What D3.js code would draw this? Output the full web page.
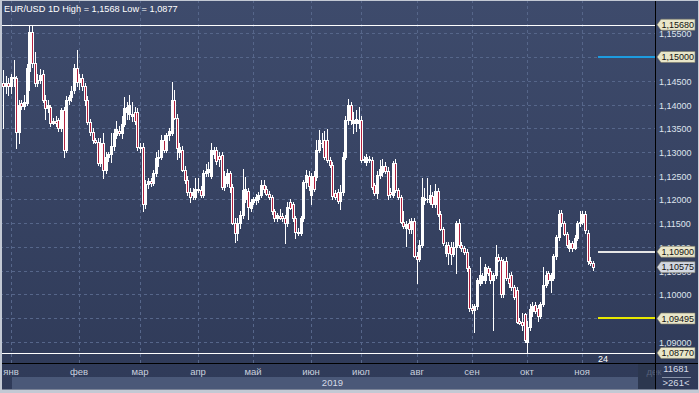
<!DOCTYPE html>
<html>
<head>
<meta charset="utf-8">
<script src="https://cdn.jsdelivr.net/npm/d3@7"></script>
<style>
  html, body { margin: 0; padding: 0; background: #2f3b58; }
  svg { display: block; font-family: "Liberation Sans", Arial, sans-serif; }
</style>
</head>
<body>
<svg id="chart" width="699" height="393"></svg>
<script>
// EUR/USD daily candles, 2019
const opens = [
  1.1445,1.1440,1.1445,1.1440,1.1458,1.1455,1.1342,1.1403,1.1396,1.1403,1.1470,1.1553,1.1488,1.1446,1.1452,1.1465,1.1410,1.1393,1.1395,1.1362,1.1365,1.1367,1.1351,1.1388,1.1304,1.1410,1.1415,1.1430,1.1477,
  1.1448,1.1455,1.1440,1.1410,1.1363,1.1342,1.1325,1.1322,1.1277,1.1320,1.1263,1.1290,1.1295,1.1312,1.1335,1.1345,1.1340,1.1360,1.1385,1.1380,1.1375,1.1385,1.1385,
  1.1310,1.1310,1.1190,1.1232,1.1238,1.1235,1.1256,1.1287,1.1290,1.1325,1.1305,1.1335,1.1340,1.1410,1.1372,1.1300,1.1305,1.1262,1.1241,1.1216,1.1210,1.1205,
  1.1222,1.1220,1.1210,1.1255,1.1258,1.1250,1.1295,1.1304,1.1292,1.1294,1.1226,1.1235,1.1255,1.1226,1.1151,1.1130,1.1150,1.1168,1.1200,1.1218,1.1182,
  1.1195,1.1198,1.1200,1.1210,1.1230,1.1222,1.1212,1.1205,1.1175,1.1160,1.1165,1.1165,1.1162,1.1150,1.1195,1.1190,1.1160,1.1132,1.1130,1.1160,1.1237,1.1250,
  1.1210,1.1250,1.1248,1.1304,1.1320,1.1325,1.1325,1.1283,1.1273,1.1213,1.1215,1.1197,1.1215,1.1290,1.1367,1.1398,1.1362,1.1362,1.1362,
  1.1368,1.1283,1.1280,1.1285,1.1283,1.1230,1.1214,1.1252,1.1258,1.1270,1.1260,1.1215,1.1210,1.1277,1.1220,1.1205,1.1152,1.1140,1.1150,1.1138,1.1155,
  1.1082,1.1075,1.1104,1.1198,1.1202,1.1195,1.1208,1.1190,1.1218,1.1170,1.1138,1.1088,1.1104,1.1100,1.1085,1.1100,1.1150,1.1105,1.1098,1.1090,1.1055,
  1.0972,1.0968,1.0975,1.1025,1.1030,1.1030,1.1055,1.1050,1.1030,1.1040,1.1079,1.1073,1.1000,1.1070,1.1035,1.1040,1.1015,1.1010,1.0945,1.0942,1.0958,
  1.0900,1.0932,1.0965,1.0978,1.0972,1.0955,1.0980,1.1020,1.1045,1.1030,1.1035,1.1080,1.1121,1.1172,1.1150,1.1128,1.1098,1.1108,1.1098,1.1118,1.1150,
  1.1152,1.1170,1.1130,1.1070,1.1066
];
const highs = [
  1.1473,1.1460,1.1455,1.1465,1.1494,1.1460,1.1410,1.1410,1.1420,1.1485,1.1567,1.1568,1.1510,1.1465,1.1475,1.1472,1.1420,1.1410,1.1400,1.1372,1.1375,1.1372,1.1392,1.1395,1.1418,1.1420,1.1440,1.1485,1.1514,
  1.1465,1.1465,1.1445,1.1418,1.1370,1.1350,1.1330,1.1330,1.1330,1.1340,1.1300,1.1300,1.1340,1.1348,1.1365,1.1355,1.1375,1.1416,1.1405,1.1420,1.1405,1.1395,1.1392,
  1.1320,1.1318,1.1240,1.1245,1.1245,1.1262,1.1300,1.1304,1.1335,1.1335,1.1340,1.1350,1.1448,1.1430,1.1380,1.1320,1.1312,1.1270,1.1250,1.1225,1.1225,1.1245,
  1.1245,1.1228,1.1262,1.1275,1.1280,1.1320,1.1310,1.1310,1.1300,1.1300,1.1260,1.1265,1.1260,1.1232,1.1160,1.1160,1.1175,1.1265,1.1248,1.1225,1.1200,
  1.1205,1.1212,1.1215,1.1240,1.1240,1.1228,1.1218,1.1210,1.1180,1.1172,1.1180,1.1172,1.1168,1.1195,1.1200,1.1195,1.1165,1.1140,1.1165,1.1240,1.1262,1.1260,
  1.1255,1.1260,1.1325,1.1346,1.1340,1.1345,1.1348,1.1290,1.1280,1.1220,1.1222,1.1230,1.1300,1.1375,1.1412,1.1405,1.1385,1.1388,1.1395,
  1.1375,1.1292,1.1295,1.1292,1.1290,1.1235,1.1260,1.1284,1.1285,1.1280,1.1268,1.1225,1.1282,1.1285,1.1225,1.1210,1.1175,1.1155,1.1158,1.1160,1.1160,
  1.1090,1.1115,1.1245,1.1225,1.1245,1.1230,1.1215,1.1232,1.1225,1.1175,1.1142,1.1110,1.1110,1.1110,1.1110,1.1155,1.1158,1.1110,1.1102,1.1095,1.1060,
  1.0980,1.0980,1.1035,1.1079,1.1045,1.1065,1.1060,1.1055,1.1045,1.1104,1.1085,1.1078,1.1075,1.1078,1.1045,1.1048,1.1020,1.1015,1.0950,1.0960,1.0962,
  1.0945,1.0980,1.0985,1.0985,1.0978,1.0985,1.1058,1.1050,1.1050,1.1045,1.1085,1.1125,1.1178,1.1178,1.1155,1.1132,1.1115,1.1112,1.1125,1.1155,1.1175,
  1.1176,1.1175,1.1135,1.1078,1.1070
];
const lows = [
  1.1351,1.1425,1.1420,1.1425,1.1440,1.1308,1.1320,1.1390,1.1390,1.1398,1.1430,1.1480,1.1440,1.1440,1.1445,1.1405,1.1370,1.1385,1.1355,1.1358,1.1355,1.1345,1.1345,1.1289,1.1300,1.1402,1.1408,1.1425,1.1440,
  1.1432,1.1430,1.1400,1.1360,1.1335,1.1320,1.1318,1.1272,1.1270,1.1245,1.1255,1.1282,1.1278,1.1305,1.1330,1.1335,1.1330,1.1355,1.1370,1.1370,1.1365,1.1360,1.1305,
  1.1300,1.1176,1.1182,1.1225,1.1228,1.1230,1.1250,1.1270,1.1285,1.1300,1.1300,1.1325,1.1335,1.1370,1.1285,1.1290,1.1260,1.1235,1.1210,1.1195,1.1200,1.1200,
  1.1215,1.1205,1.1205,1.1250,1.1250,1.1245,1.1288,1.1275,1.1270,1.1222,1.1220,1.1228,1.1215,1.1148,1.1111,1.1115,1.1140,1.1160,1.1195,1.1158,1.1175,
  1.1190,1.1190,1.1195,1.1205,1.1215,1.1210,1.1200,1.1170,1.1155,1.1155,1.1158,1.1155,1.1108,1.1145,1.1180,1.1155,1.1119,1.1125,1.1125,1.1155,1.1225,1.1220,
  1.1190,1.1218,1.1240,1.1300,1.1310,1.1285,1.1280,1.1268,1.1200,1.1202,1.1193,1.1180,1.1210,1.1285,1.1360,1.1360,1.1340,1.1345,1.1350,
  1.1280,1.1278,1.1272,1.1278,1.1222,1.1210,1.1203,1.1245,1.1250,1.1255,1.1200,1.1205,1.1205,1.1215,1.1200,1.1150,1.1140,1.1102,1.1130,1.1130,1.1078,
  1.1025,1.1070,1.1100,1.1190,1.1195,1.1190,1.1185,1.1185,1.1165,1.1135,1.1105,1.1082,1.1065,1.1065,1.1080,1.1045,1.1100,1.1092,1.1085,1.1050,1.0965,
  1.0960,1.0921,1.0970,1.1020,1.1025,1.1025,1.1040,1.1025,1.0925,1.1035,1.1070,1.0995,1.0995,1.1030,1.1015,1.1010,1.0990,1.0940,1.0938,1.0925,1.0900,
  1.0877,1.0925,1.0955,1.0960,1.0945,1.0950,1.0975,1.1015,1.1025,1.1005,1.1030,1.1075,1.1115,1.1145,1.1125,1.1100,1.1092,1.1092,1.1095,1.1115,1.1145,
  1.1148,1.1130,1.1065,1.1062,1.1052
];
const closes = [
  1.1440,1.1445,1.1440,1.1458,1.1455,1.1342,1.1400,1.1396,1.1405,1.1477,1.1553,1.1488,1.1446,1.1452,1.1462,1.1410,1.1393,1.1400,1.1362,1.1365,1.1362,1.1351,1.1388,1.1304,1.1410,1.1415,1.1428,1.1477,1.1448,
  1.1455,1.1440,1.1410,1.1363,1.1342,1.1325,1.1322,1.1277,1.1320,1.1263,1.1290,1.1295,1.1312,1.1340,1.1348,1.1340,1.1360,1.1392,1.1395,1.1398,1.1380,1.1365,1.1310,
  1.1308,1.1190,1.1232,1.1238,1.1235,1.1256,1.1287,1.1290,1.1325,1.1305,1.1335,1.1345,1.1410,1.1372,1.1308,1.1310,1.1262,1.1241,1.1216,1.1205,1.1215,1.1222,
  1.1220,1.1210,1.1255,1.1260,1.1265,1.1304,1.1304,1.1282,1.1285,1.1226,1.1250,1.1255,1.1226,1.1151,1.1130,1.1150,1.1168,1.1220,1.1222,1.1185,1.1195,
  1.1200,1.1205,1.1210,1.1230,1.1222,1.1212,1.1205,1.1175,1.1160,1.1168,1.1162,1.1160,1.1150,1.1185,1.1182,1.1160,1.1132,1.1130,1.1160,1.1237,1.1252,1.1228,
  1.1250,1.1222,1.1304,1.1325,1.1318,1.1290,1.1283,1.1273,1.1208,1.1206,1.1197,1.1215,1.1290,1.1367,1.1398,1.1367,1.1368,1.1370,1.1368,
  1.1283,1.1285,1.1290,1.1283,1.1226,1.1214,1.1252,1.1265,1.1270,1.1260,1.1210,1.1212,1.1277,1.1220,1.1205,1.1152,1.1145,1.1148,1.1138,1.1155,1.1080,
  1.1075,1.1104,1.1205,1.1204,1.1200,1.1210,1.1190,1.1218,1.1170,1.1138,1.1108,1.1104,1.1088,1.1085,1.1100,1.1150,1.1105,1.1098,1.1090,1.1055,1.0972,
  1.0968,1.0975,1.1031,1.1040,1.1038,1.1058,1.1045,1.1030,1.1040,1.1079,1.1073,1.1000,1.1070,1.1035,1.1025,1.1015,1.0995,1.0942,1.0940,1.0935,1.0905,
  1.0932,1.0970,1.0975,1.0965,1.0955,1.0980,1.1020,1.1040,1.1030,1.1040,1.1082,1.1121,1.1170,1.1150,1.1128,1.1105,1.1108,1.1098,1.1118,1.1150,1.1152,
  1.1170,1.1135,1.1070,1.1066,1.10575
];

// bottom axis: month names and the bar where each month begins
const monthLabels = ["янв","фев","мар","апр","май","июн","июл","авг","сен","окт","ноя","дек"];
const monthStart  = [3, 29, 52, 74, 95, 117, 136, 157, 178, 199, 220, 247];

// right axis ticks
const priceTicks = [1.090,1.095,1.100,1.105,1.110,1.115,1.120,1.125,1.130,1.135,1.140,1.145,1.150,1.155];

// horizontal levels: period high/low, user lines, last price
const levelValues = [1.1568, 1.1500, 1.1090, 1.10575, 1.09495, 1.0877];
const levelColors = ["#ffffff", "#1d9be0", "#e6e6e6", null, "#e8e800", "#ffffff"];
const levelFromX  = [0, 598, 598, null, 598, 0];

const W = 699, H = 393, plotR = 655, plotB = 363;
const fmt = v => d3.format(".5f")(v).replace(".", ",");

const svg = d3.select("#chart");

const grad = svg.append("defs").append("linearGradient")
    .attr("id", "bg").attr("x1", 0).attr("y1", 0).attr("x2", 0).attr("y2", 1);
grad.append("stop").attr("offset", "0%").attr("stop-color", "#3e4b6c");
grad.append("stop").attr("offset", "100%").attr("stop-color", "#2f3a58");
svg.select("defs").append("clipPath").attr("id", "plotclip")
  .append("rect").attr("x", 0).attr("y", 0).attr("width", plotR).attr("height", plotB);

svg.append("rect").attr("width", W).attr("height", H).attr("fill", "url(#bg)");

const x = d3.scaleLinear().domain([0, opens.length - 1]).range([3, 593]);
const y = d3.scaleLinear().domain([1.09, 1.15]).range([342, 57]);
const px = i => Math.round(x(i));
const py = v => Math.round(y(v));

// grid
const grid = svg.append("g").attr("stroke", "#56668a").attr("stroke-dasharray", "3,3").attr("stroke-width", 1);
grid.selectAll(".hg").data(priceTicks).join("line")
  .attr("x1", 0).attr("x2", plotR)
  .attr("y1", d => py(d) + 0.5).attr("y2", d => py(d) + 0.5);
grid.selectAll(".vg").data(monthStart.filter(d => d < opens.length)).join("line")
  .attr("x1", d => px(d) + 0.5).attr("x2", d => px(d) + 0.5)
  .attr("y1", 0).attr("y2", plotB);

// title
svg.append("text").attr("x", 4).attr("y", 12).attr("font-size", 9.2).attr("fill", "#ffffff")
  .text("EUR/USD 1D High = 1,1568 Low = 1,0877");

// full width high / low lines and user lines
const plot = svg.append("g").attr("clip-path", "url(#plotclip)");
levelValues.forEach((v, k) => {
  if (levelColors[k] === null) return;
  const full = levelFromX[k] === 0;
  plot.append("line")
    .attr("x1", levelFromX[k]).attr("x2", plotR)
    .attr("y1", full ? py(v) + 0.5 : py(v)).attr("y2", full ? py(v) + 0.5 : py(v))
    .attr("stroke", levelColors[k]).attr("stroke-width", full ? 1 : 2);
});

// candles
const idx = d3.range(opens.length);
const candles = plot.append("g");
candles.selectAll(".wick").data(idx).join("line")
  .attr("x1", i => px(i) + 0.5).attr("x2", i => px(i) + 0.5)
  .attr("y1", i => py(highs[i])).attr("y2", i => py(lows[i]) + 1)
  .attr("stroke", "#ffffff").attr("stroke-width", 1);
candles.selectAll(".body").data(idx).join("rect")
  .attr("x", i => px(i) - 1).attr("width", 3)
  .attr("y", i => py(Math.max(opens[i], closes[i])))
  .attr("height", i => Math.max(1, py(Math.min(opens[i], closes[i])) - py(Math.max(opens[i], closes[i])) + 1))
  .attr("fill", "#ffffff");
const bears = idx.filter(i => closes[i] < opens[i]);
candles.selectAll(".bear").data(bears).join("rect")
  .attr("x", i => px(i)).attr("width", 1)
  .attr("y", i => py(opens[i]) + 1)
  .attr("height", i => Math.max(0, py(closes[i]) - py(opens[i]) - 1))
  .attr("fill", "#b3213f");

svg.append("text").attr("x", 598).attr("y", 362).attr("font-size", 9).attr("fill", "#ffffff").text("24");

// right axis labels (those sitting right under a level box are hidden by it)
const hiddenTick = d => levelValues.some(v => Math.abs(y(v) - y(d)) < 3);
svg.append("g").selectAll("text").data(priceTicks.filter(d => !hiddenTick(d))).join("text")
  .attr("x", 659).attr("y", d => py(d) + 3.5)
  .attr("font-size", 9).attr("fill", "#dfe4ee")
  .text(d => fmt(d));

// level boxes on the price axis
const boxes = svg.append("g");
levelValues.forEach((v, k) => {
  const cy = y(v);
  const isLast = levelColors[k] === null;
  boxes.append("path")
    .attr("d", `M657,${cy} L661,${cy - 5.5} L695,${cy - 5.5} L695,${cy + 5.5} L661,${cy + 5.5} Z`)
    .attr("fill", isLast ? "#d3d8e2" : "#e9e6c9")
    .attr("stroke", "#7d7a66").attr("stroke-width", 0.6);
  boxes.append("text").attr("x", 661.5).attr("y", cy + 3.3)
    .attr("font-size", 9).attr("fill", "#111111").text(fmt(v));
});

// bottom axis
svg.append("rect").attr("x", 12).attr("y", 377).attr("width", 626).attr("height", 12).attr("fill", "#4a5878");
svg.append("rect").attr("x", 638).attr("y", 364).attr("width", 17).attr("height", 25).attr("fill", "#2c374f");
svg.append("g").selectAll("text").data(monthLabels).join("text")
  .attr("x", (d, k) => px(monthStart[k])).attr("y", 375)
  .attr("text-anchor", "middle").attr("font-size", 9.5)
  .attr("fill", (d, k) => monthStart[k] < opens.length ? "#c9d0de" : "#55607a")
  .text(d => d);
svg.append("text").attr("x", 343).attr("y", 386).attr("text-anchor", "end")
  .attr("font-size", 9.5).attr("fill", "#d4dae6").text("2019");

// separators
svg.append("line").attr("x1", plotR + 0.5).attr("x2", plotR + 0.5).attr("y1", 0).attr("y2", 390)
  .attr("stroke", "#000000");
svg.append("line").attr("x1", 0).attr("x2", W).attr("y1", plotB + 0.5).attr("y2", plotB + 0.5)
  .attr("stroke", "#000000");

// corner counters
svg.append("text").attr("x", 676).attr("y", 372).attr("text-anchor", "middle")
  .attr("font-size", 9.5).attr("fill", "#d4dae6").text("11681");
svg.append("line").attr("x1", 662).attr("x2", 691).attr("y1", 377.5).attr("y2", 377.5)
  .attr("stroke", "#8892a8");
svg.append("text").attr("x", 676).attr("y", 386).attr("text-anchor", "middle")
  .attr("font-size", 9.5).attr("fill", "#d4dae6").text(">261<");

// outer frame
svg.append("rect").attr("x", 0.5).attr("y", 0.5).attr("width", W - 1).attr("height", H - 1)
  .attr("fill", "none").attr("stroke", "#c3c9d4");
svg.append("line").attr("x1", 0).attr("x2", W).attr("y1", 391).attr("y2", 391)
  .attr("stroke", "#c3c9d4").attr("stroke-width", 3);
svg.append("line").attr("x1", 1.5).attr("x2", 1.5).attr("y1", 0).attr("y2", H)
  .attr("stroke", "#c3c9d4").attr("stroke-width", 1);
</script>
</body>
</html>
